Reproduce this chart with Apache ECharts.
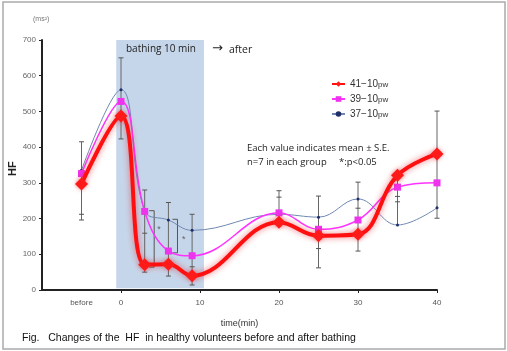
<!DOCTYPE html>
<html>
<head>
<meta charset="utf-8">
<script src="https://cdn.jsdelivr.net/npm/echarts@6/dist/echarts.min.js"></script>
<style>
  html, body { margin: 0; padding: 0; background: #fff; }
  #chart { width: 507px; height: 351px; }
</style>
</head>
<body>
<div id="chart"></div>
<script>
// time points (min), "before" drawn at -5
const times = [-5, 0, 3, 6, 9, 20, 25, 30, 35, 40]
const hf41 = [297, 487, 71, 72, 40, 190, 152, 156, 321, 381]
const hf39 = [326, 528, 220, 109, 96, 216, 170, 196, 288, 300]
const hf37 = [335, 561, 221, 196, 167, 212, 204, 255, 182, 230]

// error bars: [time, low, high] and extra caps [time, value]
const errBars = [[-5, 196, 415], [0, 423, 650], [3, 50, 280], [6, 39, 245], [9, 14, 212],
  [20, 190, 278], [25, 62, 263], [30, 109, 302], [35, 182, 320], [40, 201, 501]]
const errCaps = [[-5, 196], [-5, 212], [-5, 415], [0, 423], [0, 650], [3, 280], [3, 159], [3, 50],
  [6, 245], [6, 39], [9, 212], [9, 65], [9, 14], [20, 278], [20, 260], [25, 263], [25, 116], [25, 62],
  [30, 302], [30, 229], [30, 109], [35, 262], [35, 247], [40, 501], [40, 201]]

// significance brackets [time, low, high] and stars [time, value]
const sigBrackets = [[4.2, 64, 222], [7.15, 104, 198]]
const sigStars = [[4.8, 168], [7.95, 140]]

const xLabels = { '-5': 'before', '0': '0', '10': '10', '20': '20', '30': '30', '40': '40' }

const chart = echarts.init(document.getElementById('chart'))

const pairs = (ys) => times.map((t, i) => [t, ys[i]])

const option = {
  animation: false,
  textStyle: { fontFamily: 'Liberation Sans, Arial, sans-serif' },
  grid: { left: 42, right: 70, top: 40, bottom: 61 },
  legend: {
    orient: 'vertical',
    left: 331,
    top: 79,
    padding: 0,
    itemGap: 5,
    itemWidth: 13,
    itemHeight: 7,
    data: ['41−10pw', '39−10pw', '37−10pw'],
    formatter: (name) => `{a|${name.slice(0, 5)}}{b|pw}`,
    textStyle: {
      color: '#333',
      rich: {
        a: { fontSize: 10, color: '#333' },
        b: { fontSize: 8, color: '#333', padding: [2, 0, 0, 0] }
      }
    }
  },
  xAxis: {
    type: 'value',
    min: -10,
    max: 40,
    interval: 10,
    splitLine: { show: false },
    axisLine: { lineStyle: { color: '#222', width: 2 } },
    axisTick: { show: true, length: 3, lineStyle: { color: '#222' }, customValues: [0, 10, 20, 30, 40] },
    axisLabel: {
      color: '#555',
      fontSize: 8,
      margin: 9,
      customValues: [-5, 0, 10, 20, 30, 40],
      formatter: (v) => xLabels[String(v)] || ''
    },
    name: 'time(min)',
    nameLocation: 'middle',
    nameGap: 29,
    nameTextStyle: { color: '#333', fontSize: 9 }
  },
  yAxis: {
    type: 'value',
    min: 0,
    max: 700,
    interval: 100,
    splitLine: { show: false },
    axisLine: { show: true, onZero: false, lineStyle: { color: '#222', width: 2 } },
    axisTick: { show: true, length: 3, lineStyle: { color: '#222' } },
    axisLabel: { color: '#666', fontSize: 8, margin: 6 }
  },
  series: [
    {
      name: 'shade',
      type: 'line',
      data: [],
      silent: true,
      markArea: {
        silent: true,
        itemStyle: { color: '#c6d6ea' },
        data: [[{ xAxis: -0.6, yAxis: 700 }, { xAxis: 10.5, yAxis: 5 }]]
      }
    },
    {
      name: 'errors',
      type: 'custom',
      silent: true,
      z: 3,
      data: errBars,
      renderItem: (params, api) => {
        const top = api.coord([api.value(0), api.value(2)])
        const bot = api.coord([api.value(0), api.value(1)])
        return {
          type: 'line',
          shape: { x1: top[0], y1: top[1], x2: bot[0], y2: bot[1] },
          style: { stroke: '#666', lineWidth: 1 }
        }
      }
    },
    {
      name: 'caps',
      type: 'custom',
      silent: true,
      z: 3,
      data: errCaps,
      renderItem: (params, api) => {
        const p = api.coord([api.value(0), api.value(1)])
        return {
          type: 'line',
          shape: { x1: p[0] - 2.5, y1: p[1], x2: p[0] + 2.5, y2: p[1] },
          style: { stroke: '#555', lineWidth: 1 }
        }
      }
    },
    {
      name: 'brackets',
      type: 'custom',
      silent: true,
      z: 3,
      data: sigBrackets,
      renderItem: (params, api) => {
        const top = api.coord([api.value(0), api.value(2)])
        const bot = api.coord([api.value(0), api.value(1)])
        return {
          type: 'polyline',
          shape: { points: [[top[0] - 5, top[1]], top, bot, [bot[0] - 5, bot[1]]] },
          style: { stroke: '#555', lineWidth: 1, fill: null }
        }
      }
    },
    {
      name: 'stars',
      type: 'scatter',
      silent: true,
      data: sigStars,
      symbolSize: 0,
      label: { show: true, position: 'inside', formatter: '*', fontSize: 9, color: '#444' }
    },
    {
      name: '37−10pw',
      type: 'line',
      z: 4,
      smooth: 0.4,
      data: pairs(hf37),
      symbol: 'circle',
      symbolSize: 3,
      lineStyle: { color: '#7088b0', width: 1 },
      itemStyle: { color: '#1f2f6a' },
      color: '#7088b0'
    },
    {
      name: '39−10pw',
      type: 'line',
      z: 5,
      smooth: 0.4,
      data: pairs(hf39),
      symbol: 'rect',
      symbolSize: 7,
      lineStyle: { color: '#ff33ff', width: 1.5 },
      itemStyle: { color: '#ee33ee' },
      color: '#ff33ff'
    },
    {
      name: '41−10pw',
      type: 'line',
      z: 6,
      smooth: 0.4,
      data: pairs(hf41),
      symbol: 'diamond',
      symbolSize: 13,
      lineStyle: { color: '#ff1010', width: 4, shadowColor: 'rgba(230,30,40,0.6)', shadowBlur: 6 },
      itemStyle: { color: '#ff1a1a', shadowColor: 'rgba(230,30,40,0.5)', shadowBlur: 4 },
      color: '#ff1010'
    }
  ],
  graphic: [
    { type: 'rect', z: 100, shape: { x: 3, y: 2, width: 502, height: 347 }, style: { fill: null, stroke: '#aaa', lineWidth: 1.5 }, silent: true },
    { type: 'text', z: 100, left: 33, top: 16, style: { text: '(ms²)', fontSize: 7, fill: '#777' } },
    { type: 'text', z: 100, left: 126, top: 44, style: { text: 'bathing 10 min', fontSize: 10, fill: '#222', fontFamily: 'Open Sans, sans-serif' } },
    { type: 'text', z: 100, left: 212, top: 42, style: { text: '→', fontSize: 13, fill: '#222', fontFamily: 'DejaVu Sans, sans-serif' } },
    { type: 'text', z: 100, left: 229, top: 45, style: { text: 'after', fontSize: 10.5, fill: '#222', fontFamily: 'Open Sans, sans-serif' } },
    { type: 'text', z: 100, left: 247, top: 143, style: { text: 'Each value indicates mean ± S.E.', fontSize: 9.5, fill: '#222', fontFamily: 'Open Sans, sans-serif' } },
    { type: 'text', z: 100, left: 247, top: 157, style: { text: 'n=7 in each group     *:p<0.05', fontSize: 9.5, fill: '#222', fontFamily: 'Open Sans, sans-serif' } },
    { type: 'text', z: 100, x: 7, y: 176, rotation: Math.PI / 2, style: { text: 'HF', fontSize: 11, fontWeight: 'bold', fill: '#222' } },
    { type: 'text', z: 100, left: 22, top: 333, style: { text: 'Fig.   Changes of the  HF  in healthy volunteers before and after bathing', fontSize: 10.5, fill: '#111' } }
  ]
}

chart.setOption(option)
</script>
</body>
</html>
